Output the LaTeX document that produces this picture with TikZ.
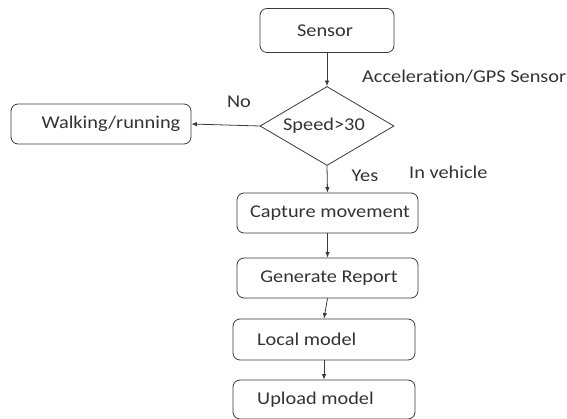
\documentclass[tikz,border=0pt]{standalone}
\usepackage{fontspec}
\setmainfont{Carlito}[FakeStretch=1.13,Ligatures=NoCommon]
\usetikzlibrary{shapes.geometric,arrows.meta}
\definecolor{ink}{HTML}{333333}
\definecolor{edge}{HTML}{3A3A3A}
\begin{document}
\begin{tikzpicture}[x=1pt,y=-1pt,
  every node/.style={font=\fontsize{18}{21}\selectfont, text=ink},
  box/.style={draw=edge, line width=0.8pt, rounded corners=7pt, inner sep=0pt},
  arr/.style={draw=edge, line width=0.8pt, -{Latex[length=5.5pt,width=4.5pt]}},
  lbl/.style={inner sep=0pt}]
\useasboundingbox (0,0) rectangle (567,419);
\node[box, minimum width=134pt, minimum height=44pt] (sensor) at (327,30.5) {};
\node[lbl] (sensort) at (325,30.5) {Sensor};
\node[box, shape=diamond, rounded corners=0pt, minimum width=134pt, minimum height=79pt] (d) at (327,126) {};
\node[lbl] (dt) at (324,126) {Speed>30};
\node[box, minimum width=180pt, minimum height=40pt] (walk) at (101,124) {};
\node[lbl] (walkt) at (111,124) {Walking/running};
\node[box, minimum width=181pt, minimum height=40pt] (cap) at (327.5,213) {};
\node[lbl] (capt) at (330,213) {Capture movement};
\node[box, minimum width=181pt, minimum height=40pt] (gen) at (327.5,278) {};
\node[lbl] (gent) at (329,278) {Generate Report};
\node[box, minimum width=182pt, minimum height=41pt] (local) at (324,339.5) {};
\node[lbl, anchor=west] (localt) at (257,339.5) {Local model};
\node[box, minimum width=182pt, minimum height=39pt] (up) at (324,399.5) {};
\node[lbl, anchor=west] (upt) at (257,399.5) {Upload model};
\node[lbl, anchor=west] (acc) at (362,77) {Acceleration/GPS Sensor};
\node[lbl] (no) at (239,102) {No};
\node[lbl] (yes) at (365,176) {Yes};
\node[lbl, anchor=west] (inv) at (409,172) {In vehicle};
\draw[arr] (sensor.south) -- (d.north);
\draw[arr] (d.west) -- (walk.east);
\draw[arr] (d.south) -- (cap.north);
\draw[arr] (cap.south) -- (gen.north);
\draw[arr] (gen.south) -- (local.north);
\draw[arr] (local.south) -- (up.north);
\end{tikzpicture}
\end{document}
